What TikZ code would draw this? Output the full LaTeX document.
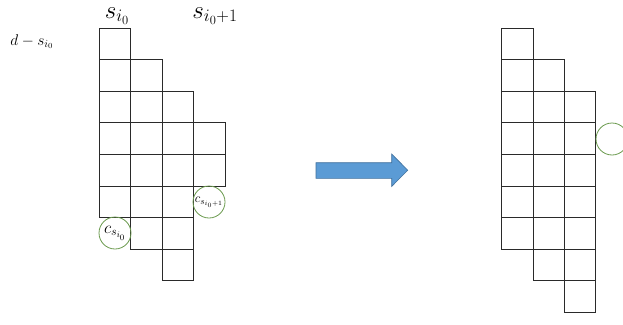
\documentclass[tikz,border=0pt]{standalone}
\usepackage{fix-cm}
\definecolor{gridline}{HTML}{2A2A2A}
\definecolor{ringgreen}{HTML}{6B9A4E}
\definecolor{arrowfill}{HTML}{5B9BD5}
\definecolor{arrowedge}{HTML}{41719C}
\tikzset{
  cell/.style={draw=gridline, line width=0.9pt},
  ring/.style={circle, draw=ringgreen, line width=0.8pt, minimum size=32pt, inner sep=0pt},
  biglabel/.style={font=\fontsize{25}{28}\selectfont, inner sep=0pt, anchor=base},
  smalllabel/.style={font=\fontsize{15.5}{18}\selectfont, inner sep=0pt, anchor=base},
  bigarrow/.style={draw=arrowedge, fill=arrowfill, line width=0.6pt, line join=miter},
}
\begin{document}
\begin{tikzpicture}[x=1pt,y=-1pt]
\clip (0,0) rectangle (623,324);
\fill[white] (0,0) rectangle (623,324);
% left grid: column index, first row, last row
\foreach \c/\a/\b in {0/0/5, 1/1/6, 2/2/7, 3/3/4} {
  \foreach \r in {\a,...,\b} {
    \draw[cell] ({99+31.5*\c},{28+31.6*\r}) rectangle ++(31.5,31.6);
  }
}
% right grid
\foreach \c/\a/\b in {0/0/6, 1/1/7, 2/2/8} {
  \foreach \r in {\a,...,\b} {
    \draw[cell] ({501.7+31.4*\c},{28+31.6*\r}) rectangle ++(31.4,31.6);
  }
}
% labels
\node[biglabel] (si0) at (117,18) {$s_{i_0}$};
\node[biglabel] (si1) at (215,18) {$s_{i_0+1}$};
\node[smalllabel] (dsi) at (32,45) {$d-s_{i_0}$};
% circles
\node[ring, font=\fontsize{17}{19}\selectfont] (c0) at (115,233) {$c_{s_{i_0}}$};
\node[ring, font=\fontsize{13}{15}\selectfont] (c1) at (209,202) {$c_{s_{i_0+1}}$};
\node[ring] (c2) at (612,139) {};
% arrow
\draw[bigarrow] (316,162.7) -- (391.7,162.7) -- (391.7,154) -- (407.7,170.2)
  -- (391.7,186.4) -- (391.7,178.3) -- (316,178.3) -- cycle;
\end{tikzpicture}
\end{document}
